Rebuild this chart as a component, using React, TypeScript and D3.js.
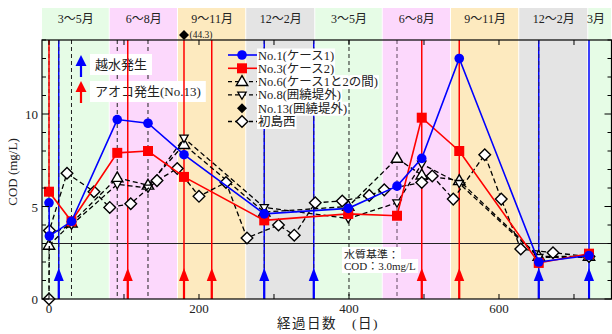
import React, { useLayoutEffect, useRef, useState } from "react";
import * as d3 from "d3";

// ---- data ----
const seasonLabels = ["3〜5月", "6〜8月", "9〜11月", "12〜2月", "3〜5月", "6〜8月", "9〜11月", "12〜2月", "3月"];
const seasonKinds = ["spring", "summer", "autumn", "winter", "spring", "summer", "autumn", "winter", "spring"];
const seasonStartDays = [-9.33, 81, 172, 263, 355, 445, 536, 627, 719];
const lastDay = 750;

const no1Days = [0, 0.5, 30, 91, 132, 180, 287, 399, 464, 497, 547, 653, 720];
const no1Cod = [5.2, 3.4, 4.2, 9.7, 9.5, 7.8, 4.6, 4.9, 6.1, 7.6, 13.0, 2.0, 2.35];

const no3Days = [0, 30, 91, 132, 180, 287, 399, 464, 497, 547, 653, 720];
const no3Cod = [5.8, 4.2, 7.9, 8.0, 6.6, 4.25, 4.6, 4.5, 9.8, 8.0, 1.95, 2.45];

const no6Days = [0, 30, 91, 132, 180, 287, 399, 464, 497, 547, 653, 720];
const no6Cod = [2.9, 4.1, 6.55, 6.15, 8.35, 4.7, 5.0, 7.6, 6.7, 6.4, 2.3, 2.3];

const no8Days = [0, 30, 91, 132, 180, 287, 399, 464, 497, 547, 653, 720];
const no8Cod = [3.5, 4.0, 6.2, 6.0, 8.7, 4.95, 4.35, 5.2, 7.3, 6.25, 2.25, 2.25];

const hatsushimaDays = [0, 0.5, 24, 60, 81, 109, 144, 171, 200, 236, 264, 306, 327, 355, 391, 427, 447, 497, 511, 539, 581, 603, 629, 672, 720];
const hatsushimaCod = [0, 3.7, 6.8, 5.8, 4.95, 5.15, 6.4, 7.05, 5.55, 6.3, 3.3, 4.0, 3.45, 5.2, 5.3, 5.6, 5.9, 6.3, 6.65, 5.4, 7.8, 5.4, 2.7, 2.5, 2.3];

const no13Day = 180;
const no13Cod = 44.3;

// overflow (越水) and blue-green algae (アオコ) events
const overflowDays = [13, 287, 353, 653, 720];
const overflowDashedDays = [13, 287, 353, 653];
const algaeDays = [105, 180, 217, 497, 547];
const algaeStartDays = [0];
const samplingDays = [0, 30, 91, 132, 400];
const samplingFaintDays = [464];

const standardCod = 3.0;
const xTicks = [0, 100, 200, 300, 400, 500, 600, 700];
const xTickLabels = [0, 200, 400, 600];
const yTicks = d3.range(0, 15);
const yTickLabels = [0, 5, 10];

const legendLabels = ["No.1(ケース1)", "No.3(ケース2)", "No.6(ケース1と2の間)", "No.8(囲繞堤外)", "No.13(囲繞堤外)", "初島西"];

// ---- layout ----
const W = 612;
const H = 334;
const PL = 42;
const PR = 611.5;
const PT = 40;
const PB = 299;
const HEADER_TOP = 8;

const FONT = "'Liberation Serif', 'Times New Roman', 'Noto Sans CJK JP', serif";
const BLUE = "#0000ff";
const RED = "#ff0000";
const bandColor: Record<string, string> = {
  spring: "#e6fce6",
  summer: "#fcd8fc",
  autumn: "#fdeabf",
  winter: "#e4e4e4",
};

const x = d3.scaleLinear().domain([-9.33, lastDay]).range([PL, PR]);
const y = d3.scaleLinear().domain([0, 14]).range([PB, PT]);

type Pt = [number, number];
const zip = (a: number[], b: number[]): Pt[] => a.map((d, i) => [d, b[i]]);
const line = d3.line<Pt>().x((p) => x(p[0])).y((p) => y(p[1]));

function Marker({ kind, cx, cy }: { kind: string; cx: number; cy: number }) {
  if (kind === "circle") return <circle cx={cx} cy={cy} r={4.8} fill={BLUE} />;
  if (kind === "square") return <rect x={cx - 5} y={cy - 5} width={10} height={10} fill={RED} />;
  if (kind === "up") {
    const s = 6;
    return (
      <path
        d={`M${cx},${cy - s} L${cx + s * 0.95},${cy + s * 0.65} L${cx - s * 0.95},${cy + s * 0.65} Z`}
        fill="#fff"
        stroke="#000"
        strokeWidth={1.4}
      />
    );
  }
  if (kind === "down") {
    const s = 4.4;
    return (
      <path
        d={`M${cx},${cy + s} L${cx + s * 0.95},${cy - s * 0.65} L${cx - s * 0.95},${cy - s * 0.65} Z`}
        fill="#fff"
        stroke="#000"
        strokeWidth={1.3}
      />
    );
  }
  if (kind === "diamondFilled") {
    const r = 5;
    return <path d={`M${cx},${cy - r} L${cx + r},${cy} L${cx},${cy + r} L${cx - r},${cy} Z`} fill="#000" />;
  }
  const r = 5.8;
  return (
    <path
      d={`M${cx},${cy - r} L${cx + r},${cy} L${cx},${cy + r} L${cx - r},${cy} Z`}
      fill="#fff"
      stroke="#000"
      strokeWidth={1.4}
    />
  );
}

function Series({ pts, color, dashed, kind, width }: { pts: Pt[]; color: string; dashed?: boolean; kind: string; width: number }) {
  return (
    <g>
      <path d={line(pts) || ""} fill="none" stroke={color} strokeWidth={width} strokeDasharray={dashed ? "5,3" : undefined} />
      {pts.map((p, i) => (
        <Marker key={i} kind={kind} cx={x(p[0])} cy={y(p[1])} />
      ))}
    </g>
  );
}

function BoxedText({ tx, ty, text, size, padX = 2, padY = 0, anchor = "start" }: { tx: number; ty: number; text: string; size: number; padX?: number; padY?: number; anchor?: string }) {
  const ref = useRef<SVGTextElement>(null);
  const [box, setBox] = useState<{ x: number; y: number; w: number; h: number } | null>(null);
  useLayoutEffect(() => {
    const el = ref.current;
    if (!el) return;
    const b = el.getBBox();
    setBox({ x: b.x, y: b.y, w: b.width, h: b.height });
  }, [text, tx, ty, size]);
  return (
    <g>
      {box && <rect x={box.x - padX} y={box.y - padY} width={box.w + 2 * padX} height={box.h + 2 * padY} fill="#fff" />}
      <text ref={ref} x={tx} y={ty} fontSize={size} fontFamily={FONT} textAnchor={anchor as any} fill="#222">
        {text}
      </text>
    </g>
  );
}

function UpArrow({ cx, tip, base, end, color, half }: { cx: number; tip: number; base: number; end: number; color: string; half: number }) {
  return (
    <g>
      <line x1={cx} x2={cx} y1={base - 1} y2={end} stroke={color} strokeWidth={2.2} />
      <path d={`M${cx},${tip} L${cx + half},${base} L${cx - half},${base} Z`} fill={color} />
    </g>
  );
}

export default function App() {
  const bands = seasonStartDays.map((s, i) => ({
    x0: x(s),
    x1: i + 1 < seasonStartDays.length ? x(seasonStartDays[i + 1]) : W,
    kind: seasonKinds[i],
    label: seasonLabels[i],
  }));

  const legendRowY = (i: number) => 55 + i * 13.3;
  const legendKinds = ["circle", "square", "up", "down", "diamondFilled", "diamond"];
  const legendColors = [BLUE, RED, "#000", "#000", "none", "#000"];
  const legendDashed = [false, false, true, true, false, true];

  const arrowTipY = 268;
  const arrowBaseY = 281;

  return (
    <svg width={W} height={H} style={{ position: "absolute", left: 0, top: 0 }} fontFamily={FONT}>
      <rect x={0} y={0} width={W} height={H} fill="#fff" />

      {/* season bands: header strip and plot background */}
      {bands.map((b, i) => (
        <g key={i}>
          <rect x={b.x0} y={HEADER_TOP} width={Math.max(0, b.x1 - b.x0 - 1)} height={PB - HEADER_TOP} fill={bandColor[b.kind]} />
          <text x={(b.x0 + b.x1) / 2 - (i === bands.length - 1 ? 4 : 0)} y={23} fontSize={12} textAnchor="middle" fill="#222">
            {b.label}
          </text>
        </g>
      ))}

      {/* water quality standard */}
      <line x1={PL} x2={PR} y1={y(standardCod)} y2={y(standardCod)} stroke="#222" strokeWidth={1} />

      {/* sampling date lines */}
      {samplingDays.map((d, i) => (
        <line key={"s" + i} x1={x(d)} x2={x(d)} y1={PT} y2={PB} stroke="#222" strokeWidth={1} strokeDasharray="4,3" />
      ))}
      {samplingFaintDays.map((d, i) => (
        <line key={"sf" + i} x1={x(d)} x2={x(d)} y1={PT} y2={PB} stroke="#7a627a" strokeWidth={1.2} strokeDasharray="4,3" />
      ))}

      {/* overflow event lines */}
      {overflowDays.map((d, i) => (
        <line key={"o" + i} x1={x(d)} x2={x(d)} y1={PT} y2={PB} stroke={BLUE} strokeWidth={1.5} />
      ))}
      {overflowDashedDays.map((d, i) => (
        <line key={"od" + i} x1={x(d)} x2={x(d)} y1={PT} y2={PB} stroke="#1a1a7a" strokeWidth={1} strokeDasharray="4,3" />
      ))}

      {/* labels with white backing */}
      <BoxedText tx={95} ty={69} text="越水発生" size={13} padX={5} padY={3} />
      <BoxedText tx={95} ty={96} text="アオコ発生(No.13)" size={13} padX={5} padY={3} />
      <UpArrow cx={81} tip={55} base={66} end={77} color={BLUE} half={5.5} />
      <UpArrow cx={81} tip={81} base={92} end={103} color={RED} half={5.5} />

      {legendLabels.map((t, i) => (
        <BoxedText key={"lt" + i} tx={258} ty={legendRowY(i) + 4.5} text={t} size={12.5} padX={1} padY={0} />
      ))}

      <BoxedText tx={344} ty={259} text="水質基準：" size={11} padX={2} padY={1} />
      <BoxedText tx={344} ty={270} text="COD：3.0mg/L" size={11} padX={2} padY={1} />

      {/* algae bloom lines */}
      {algaeDays.map((d, i) => (
        <line key={"a" + i} x1={x(d)} x2={x(d)} y1={PT} y2={PB} stroke={RED} strokeWidth={1.5} />
      ))}
      {algaeStartDays.map((d, i) => (
        <line key={"as" + i} x1={x(d)} x2={x(d)} y1={PT} y2={y(no3Cod[no3Days.indexOf(d)])} stroke={RED} strokeWidth={1.5} />
      ))}

      {/* event arrows */}
      {overflowDays.map((d, i) => (
        <UpArrow key={"oa" + i} cx={x(d)} tip={arrowTipY} base={arrowBaseY} end={PB} color={BLUE} half={5} />
      ))}
      {algaeDays.map((d, i) => (
        <UpArrow key={"aa" + i} cx={x(d)} tip={arrowTipY} base={arrowBaseY} end={PB} color={RED} half={5} />
      ))}

      {/* series */}
      <Series pts={zip(no6Days, no6Cod)} color="#000" dashed kind="up" width={1.3} />
      <Series pts={zip(no8Days, no8Cod)} color="#000" dashed kind="down" width={1.3} />
      <Series pts={zip(hatsushimaDays, hatsushimaCod)} color="#000" dashed kind="diamond" width={1.3} />
      <Series pts={zip(no3Days, no3Cod)} color={RED} kind="square" width={1.6} />
      <Series pts={zip(no1Days, no1Cod)} color={BLUE} kind="circle" width={1.6} />

      {/* legend symbols */}
      {legendKinds.map((k, i) => (
        <g key={"ls" + i}>
          {legendColors[i] !== "none" && (
            <line
              x1={228}
              x2={257}
              y1={legendRowY(i)}
              y2={legendRowY(i)}
              stroke={legendColors[i]}
              strokeWidth={legendDashed[i] ? 1.3 : 1.6}
              strokeDasharray={legendDashed[i] ? "4,3" : undefined}
            />
          )}
          <Marker kind={k} cx={242} cy={legendRowY(i)} />
        </g>
      ))}

      {/* frame */}
      <rect x={PL} y={PT} width={PR - PL} height={PB - PT} fill="none" stroke="#000" strokeWidth={1.2} />

      {/* x ticks */}
      {xTicks.map((t) => (
        <g key={"xt" + t}>
          <line x1={x(t)} x2={x(t)} y1={PB} y2={PB - 5} stroke="#000" strokeWidth={1} />
          <line x1={x(t)} x2={x(t)} y1={PT} y2={PT + 5} stroke="#000" strokeWidth={1} />
        </g>
      ))}
      {xTickLabels.map((t) => (
        <text key={"xl" + t} x={x(t)} y={313} fontSize={13} textAnchor="middle" fill="#222">
          {t}
        </text>
      ))}

      {/* y ticks */}
      {yTicks.map((t) => {
        const len = t % 5 === 0 ? 7 : 4;
        return (
          <g key={"yt" + t}>
            <line x1={PL} x2={PL + len} y1={y(t)} y2={y(t)} stroke="#000" strokeWidth={1} />
            <line x1={PR} x2={PR - len} y1={y(t)} y2={y(t)} stroke="#000" strokeWidth={1} />
          </g>
        );
      })}
      {yTickLabels.map((t) => (
        <text key={"yl" + t} x={38} y={y(t) + 5} fontSize={13} textAnchor="end" fill="#222">
          {t}
        </text>
      ))}

      {/* axis titles */}
      <text x={17} y={172} fontSize={13} textAnchor="middle" transform="rotate(-90 17 172)" fill="#222">
        COD (mg/L)
      </text>
      <text x={277} y={328} fontSize={13.5} letterSpacing={1.5} fill="#222">
        経過日数　(日)
      </text>

      {/* off-scale No.13 value */}
      <Marker kind="diamondFilled" cx={x(no13Day)} cy={PT - 5} />
      <text x={x(no13Day) + 5.5} y={PT - 2} fontSize={9.5} fill="#222">
        ({no13Cod})
      </text>
    </svg>
  );
}
